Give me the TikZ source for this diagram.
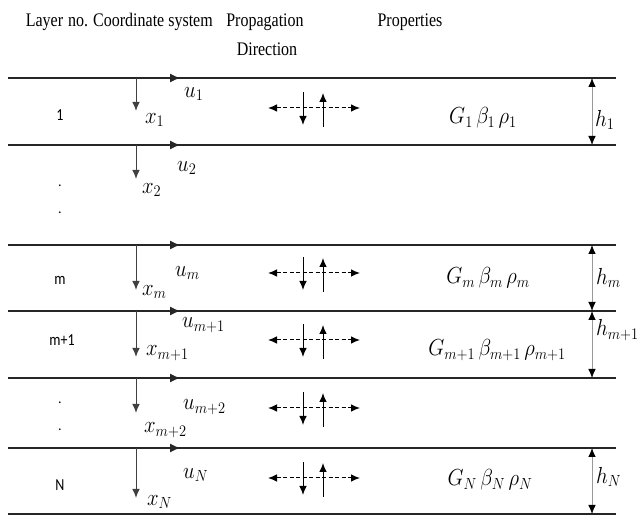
\documentclass[tikz,border=0pt]{standalone}
\usepackage{fontspec}
\usepackage{graphicx}
\setmainfont{Liberation Serif}
\newfontfamily\numfont{Carlito}
\usetikzlibrary{arrows.meta}
\newcommand\sy[1]{\scalebox{1}[1.2]{#1}}
\newcommand\sm[1]{\scalebox{1}[1.12]{#1}}
\begin{document}
\begin{tikzpicture}[x=1pt,y=-1pt,
  layerline/.style={line width=2.7pt, draw=black!85},
  tip/.style={-{Latex[length=9pt,width=7.5pt]}},
  uarrow/.style={-{Latex[length=10pt,width=9pt]}, line width=1pt, draw=black!85},
  xarrow/.style={tip, line width=1pt, draw=black!75},
  harrow/.style={{Latex[length=9pt,width=7.5pt,black]}-{Latex[length=9pt,width=7.5pt,black]}, line width=0.8pt, draw=black!40},
  dasharr/.style={{Latex[length=9pt,width=7.5pt]}-{Latex[length=9pt,width=7.5pt]}, line width=1pt, dash pattern=on 4pt off 2.5pt},
  solarr/.style={tip, line width=1pt},
  hdr/.style={font=\fontsize{16}{18}\selectfont, inner sep=0pt},
  num/.style={font=\numfont\fontsize{14}{16}\selectfont, inner sep=0pt},
  lab/.style={font=\fontsize{21}{23}\selectfont, inner sep=0pt, anchor=west},
  prop/.style={font=\fontsize{21}{23}\selectfont, inner sep=0pt}
]
\useasboundingbox (0,0) rectangle (641,518);

% headers
\node[hdr] (hL) at (57,22) {\sy{Layer\hspace{5pt}no.}};
\node[hdr] (hC) at (153,22) {\sy{Coordinate system}};
\node[hdr] (hP) at (265,22) {\sy{Propagation}};
\node[hdr] (hD) at (267,49) {\sy{Direction}};
\node[hdr] (hR) at (410,22) {\sy{Properties}};

% interface lines
\foreach \n/\y in {1/78,2/145,3/245,4/311,5/378,6/448,7/514}{
  \coordinate (L\n a) at (8,\y);
  \coordinate (L\n b) at (616,\y);
  \coordinate (L\n h) at (592,\y);
  \draw[layerline] (L\n a) -- (L\n b);
}

% coordinate systems
\foreach \n/\y/\len in {1/78/33,2/145/34,3/245/45,4/311/46,5/378/35,6/448/50}{
  \coordinate (O\n) at (136,\y);
  \coordinate (U\n) at (180,\y);
  \coordinate (X\n) at (136,\y+\len);
  \draw[uarrow] (O\n) -- (U\n);
  \draw[xarrow] (O\n) -- (X\n);
}

\node[lab] (u1) at (184,94) {\sm{$u_1$}};
\node[lab] (x1) at (145,120) {\sm{$x_1$}};
\node[lab] (u2) at (177,168) {\sm{$u_2$}};
\node[lab] (x2) at (142,190) {\sm{$x_2$}};
\node[lab] (um) at (175,273) {\sm{$u_m$}};
\node[lab] (xm) at (142,292) {\sm{$x_m$}};
\node[lab] (um1) at (182,325) {\sm{$u_{m+1}$}};
\node[lab] (xm1) at (146,353) {\sm{$x_{m+1}$}};
\node[lab] (um2) at (183,407) {\sm{$u_{m+2}$}};
\node[lab] (xm2) at (144,430) {\sm{$x_{m+2}$}};
\node[lab] (uN) at (183,475) {\sm{$u_N$}};
\node[lab] (xN) at (147,502) {\sm{$x_N$}};

% propagation direction symbols
\foreach \n/\y in {1/108,3/273,4/340,5/408,6/478}{
  \coordinate (PL\n) at (268,\y);
  \coordinate (PR\n) at (360,\y);
  \coordinate (DT\n) at (303,\y-16);
  \coordinate (DB\n) at (303,\y+17);
  \coordinate (UT\n) at (323,\y-15);
  \coordinate (UB\n) at (323,\y+19);
  \draw[dasharr] (PL\n) -- (PR\n);
  \draw[solarr] (DT\n) -- (DB\n);
  \draw[solarr] (UB\n) -- (UT\n);
}

% layer numbers
\node[num] (n1) at (60,115) {\sy{1}};
\node[num] (d1) at (60,186) {.};
\node[num] (d2) at (60,213) {.};
\node[num] (nm) at (60,280) {\sy{m}};
\node[num] (nm1) at (62,340) {\sy{m+1}};
\node[num] (d3) at (60,403) {.};
\node[num] (d4) at (60,430) {.};
\node[num] (nN) at (60,485) {\sy{N}};

% properties
\node[prop] (g1) at (483,118) {\sm{$G_1\,\beta_1\,\rho_1$}};
\node[prop] (gm) at (488,278) {\sm{$G_m\,\beta_m\,\rho_m$}};
\node[prop] (gm1) at (497,350) {\sm{$G_{m+1}\,\beta_{m+1}\,\rho_{m+1}$}};
\node[prop] (gN) at (490,480) {\sm{$G_N\,\beta_N\,\rho_N$}};

% thicknesses
\draw[harrow] (L1h) -- (L2h);
\draw[harrow] (L3h) -- (L4h);
\draw[harrow] (L4h) -- (L5h);
\draw[harrow] (L6h) -- (L7h);
\node[lab] (h1) at (595,120) {\sm{$h_1$}};
\node[lab] (hm) at (596,278) {\sm{$h_m$}};
\node[lab] (hm1) at (596,330) {\sm{$h_{m+1}$}};
\node[lab] (hN) at (596,477) {\sm{$h_N$}};
\end{tikzpicture}
\end{document}
